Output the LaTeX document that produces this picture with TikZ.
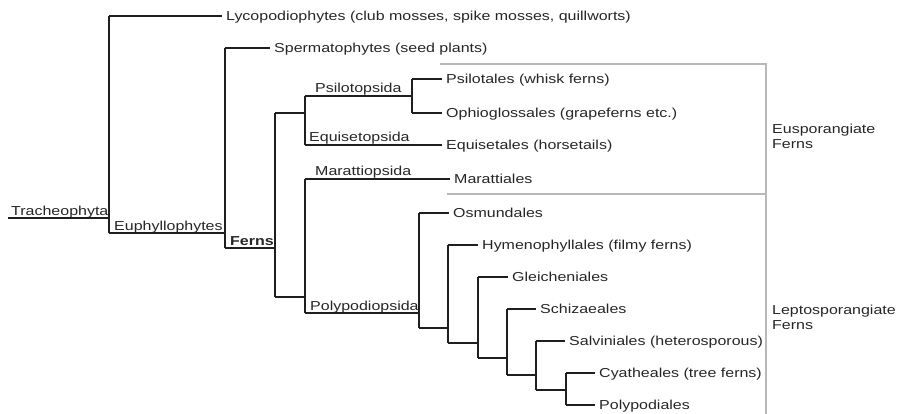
\documentclass[tikz,border=0pt]{standalone}
\usepackage{fontspec}
\setmainfont{Liberation Sans}[FakeStretch=1.23]
\begin{document}
\begin{tikzpicture}[x=1pt,y=-1pt,
  br/.style={draw=black!88, line width=1.1pt},
  leaf/.style={anchor=west, inner xsep=4pt, inner ysep=0pt, text height=9pt, text depth=0pt,
    font=\fontsize{13}{15}\selectfont, text=black!85},
  clade/.style={anchor=base west, inner sep=0pt, font=\fontsize{13}{15}\selectfont, text=black!85},
  grp/.style={anchor=north west, align=left, inner sep=0pt, font=\fontsize{13}{15}\selectfont, text=black!85},
  box/.style={draw=black!28, line width=1.3pt}
]
\useasboundingbox (0,0) rectangle (899,414);

% leaves
\node[leaf] (lyco)  at (222,16)  {Lycopodiophytes (club mosses, spike mosses, quillworts)};
\node[leaf] (sperm) at (270,48)  {Spermatophytes (seed plants)};
\node[leaf] (psil)  at (442,79)  {Psilotales (whisk ferns)};
\node[leaf] (ophi)  at (442,113) {Ophioglossales (grapeferns etc.)};
\node[leaf] (equi)  at (442,145) {Equisetales (horsetails)};
\node[leaf] (mara)  at (450,179) {Marattiales};
\node[leaf] (osmu)  at (449,213) {Osmundales};
\node[leaf] (hyme)  at (478,245) {Hymenophyllales (filmy ferns)};
\node[leaf] (glei)  at (508,277) {Gleicheniales};
\node[leaf] (schi)  at (536,309) {Schizaeales};
\node[leaf] (salv)  at (565,341) {Salviniales (heterosporous)};
\node[leaf] (cyat)  at (595,373) {Cyatheales (tree ferns)};
\node[leaf] (poly)  at (595,405) {Polypodiales};

% clade labels
\node[clade] (ltra) at (11,215)  {Tracheophyta};
\node[clade] (leup) at (114,230) {Euphyllophytes};
\node[clade] (lfer) at (230,245) {\bfseries Ferns};
\node[clade] (lpsi) at (315,93)  {Psilotopsida};
\node[clade] (lequ) at (309,142) {Equisetopsida};
\node[clade] (lmar) at (315,176) {Marattiopsida};
\node[clade] (lpol) at (310,310) {Polypodiopsida};

% junctions
\coordinate (root) at (8,218);
\coordinate (T)  at (109,218); \coordinate (Tt) at (109,16);  \coordinate (Tb) at (109,233);
\coordinate (E)  at (225,233); \coordinate (Et) at (225,48);  \coordinate (Eb) at (225,248);
\coordinate (F)  at (275,248); \coordinate (Ft) at (275,113); \coordinate (Fb) at (275,297);
\coordinate (A)  at (305,113); \coordinate (At) at (305,96);  \coordinate (Ab) at (305,145);
\coordinate (P)  at (412,96);  \coordinate (Pt) at (412,79);  \coordinate (Pb) at (412,113);
\coordinate (B)  at (305,297); \coordinate (Bt) at (305,179); \coordinate (Bb) at (305,313);
\coordinate (L1) at (419,313); \coordinate (L1t) at (419,213); \coordinate (L1b) at (419,328);
\coordinate (L2) at (448,328); \coordinate (L2t) at (448,245); \coordinate (L2b) at (448,343);
\coordinate (L3) at (478,343); \coordinate (L3t) at (478,277); \coordinate (L3b) at (478,358);
\coordinate (L4) at (507,358); \coordinate (L4t) at (507,309); \coordinate (L4b) at (507,375);
\coordinate (L5) at (536,375); \coordinate (L5t) at (536,341); \coordinate (L5b) at (536,390);
\coordinate (L6) at (566,390); \coordinate (L6t) at (566,373); \coordinate (L6b) at (566,405);

% branches
\draw[br] (root) -- (T);
\draw[br] (Tt) -- (Tb);
\draw[br] (Tt) -- (lyco.west);
\draw[br] (Tb) -- (E);
\draw[br] (Et) -- (Eb);
\draw[br] (Et) -- (sperm.west);
\draw[br] (Eb) -- (F);
\draw[br] (Ft) -- (Fb);
\draw[br] (Ft) -- (A);
\draw[br] (At) -- (Ab);
\draw[br] (At) -- (P);
\draw[br] (Pt) -- (Pb);
\draw[br] (Pt) -- (psil.west);
\draw[br] (Pb) -- (ophi.west);
\draw[br] (Ab) -- (equi.west);
\draw[br] (Fb) -- (B);
\draw[br] (Bt) -- (Bb);
\draw[br] (Bt) -- (mara.west);
\draw[br] (Bb) -- (L1);
\draw[br] (L1t) -- (L1b); \draw[br] (L1t) -- (osmu.west); \draw[br] (L1b) -- (L2);
\draw[br] (L2t) -- (L2b); \draw[br] (L2t) -- (hyme.west); \draw[br] (L2b) -- (L3);
\draw[br] (L3t) -- (L3b); \draw[br] (L3t) -- (glei.west); \draw[br] (L3b) -- (L4);
\draw[br] (L4t) -- (L4b); \draw[br] (L4t) -- (schi.west); \draw[br] (L4b) -- (L5);
\draw[br] (L5t) -- (L5b); \draw[br] (L5t) -- (salv.west); \draw[br] (L5b) -- (L6);
\draw[br] (L6t) -- (L6b); \draw[br] (L6t) -- (cyat.west); \draw[br] (L6b) -- (poly.west);

% group frames
\coordinate (g1) at (440,64);  \coordinate (g2) at (766,64);
\coordinate (g3) at (447,194); \coordinate (g4) at (766,194);
\coordinate (g5) at (766,414);
\draw[box] (g1) -- (g2) -- (g5);
\draw[box] (g3) -- (g4);

\node[grp] (eus) at (772,124) {Eusporangiate\\Ferns};
\node[grp] (lep) at (772,305) {Leptosporangiate\\Ferns};
\end{tikzpicture}
\end{document}
